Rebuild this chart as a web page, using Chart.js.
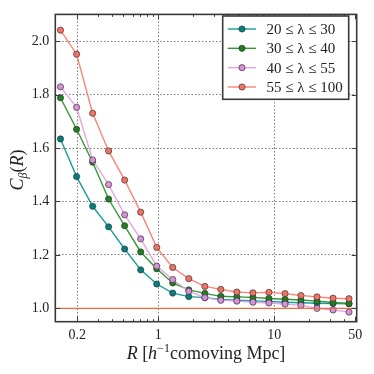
<!DOCTYPE html>
<html>
<head>
<meta charset="utf-8">
<script src="https://cdn.jsdelivr.net/npm/chart.js@4.4.1/dist/chart.umd.min.js"></script>
<style>
  html, body { margin: 0; padding: 0; background: #fff; }
  #wrap { width: 374px; height: 374px; position: relative; }
</style>
</head>
<body>
<div id="wrap"><canvas id="c" width="374" height="374"></canvas></div>
<script>
// ---- data ----
const radii = [0.143, 0.197, 0.271, 0.372, 0.512, 0.704, 0.968, 1.33, 1.83, 2.52, 3.46, 4.76, 6.55, 9.0, 12.4, 17.0, 23.4, 32.2, 44.2];
const series20to30  = [1.634, 1.493, 1.382, 1.305, 1.222, 1.144, 1.091, 1.057, 1.044, 1.040, 1.033, 1.030, 1.028, 1.026, 1.023, 1.021, 1.019, 1.018, 1.017];
const series30to40  = [1.788, 1.670, 1.547, 1.409, 1.309, 1.211, 1.148, 1.095, 1.069, 1.056, 1.045, 1.043, 1.041, 1.037, 1.034, 1.031, 1.027, 1.022, 1.018];
const series40to55  = [1.829, 1.752, 1.555, 1.463, 1.350, 1.260, 1.158, 1.108, 1.064, 1.040, 1.030, 1.027, 1.023, 1.020, 1.016, 1.011, 1.000, 0.994, 0.986];
const series55to100 = [2.041, 1.951, 1.730, 1.589, 1.480, 1.360, 1.228, 1.153, 1.111, 1.082, 1.071, 1.061, 1.058, 1.060, 1.055, 1.048, 1.043, 1.038, 1.036];
const seriesLabels = ["20 \u2264 \u03bb \u2264 30", "30 \u2264 \u03bb \u2264 40", "40 \u2264 \u03bb \u2264 55", "55 \u2264 \u03bb \u2264 100"];
const referenceLevel = 1.0;
const xRange = [0.129, 51.5];
const yRange = [0.95, 2.1];
const xTickValues = [0.2, 1, 10, 50];
const xTickLabels = ["0.2", "1", "10", "50"];
const yTickValues = [1.0, 1.2, 1.4, 1.6, 1.8, 2.0];
const xMinorTicks = [0.3, 0.4, 0.5, 0.6, 0.7, 0.8, 0.9, 2, 3, 4, 5, 6, 7, 8, 9, 20, 30, 40];

const lineColors   = ['#1a9c9c', '#339933', '#e3a6e3', '#fb8575'];
const markerColors = ['#008080', '#1e801e', '#da90da', '#f47262'];
const refColor = '#f26a3a';
const SERIF = '"Liberation Serif", "DejaVu Serif", serif';
const FRAME = '#3a3a3a';

const allSeries = [series20to30, series30to40, series40to55, series55to100];
function pts(arr) { return radii.map((r, i) => ({ x: r, y: arr[i] })); }

const datasets = allSeries.map((s, i) => ({
  label: seriesLabels[i],
  data: pts(s),
  borderColor: lineColors[i],
  backgroundColor: markerColors[i],
  pointBackgroundColor: markerColors[i],
  pointBorderColor: '#333333',
  pointBorderWidth: 0.7,
  pointRadius: 3.1,
  borderWidth: 1.4,
  tension: 0,
  order: 4 - i
}));
datasets.push({
  label: 'ref',
  data: [{ x: xRange[0], y: referenceLevel }, { x: xRange[1], y: referenceLevel }],
  borderColor: refColor,
  borderWidth: 1.4,
  pointRadius: 0,
  order: 0
});

const decorPlugin = {
  id: 'decor',
  afterDatasetsDraw(chart) {
    const ctx = chart.ctx, a = chart.chartArea;
    const xs = chart.scales.x, ys = chart.scales.y;
    ctx.save();
    // frame
    ctx.strokeStyle = FRAME; ctx.lineWidth = 1.6;
    ctx.strokeRect(a.left, a.top, a.right - a.left, a.bottom - a.top);
    // ticks
    ctx.lineWidth = 1;
    ctx.beginPath();
    xTickValues.forEach(v => {
      const px = Math.round(xs.getPixelForValue(v)) + 0.5;
      ctx.moveTo(px, a.bottom); ctx.lineTo(px, a.bottom - 5);
      ctx.moveTo(px, a.top); ctx.lineTo(px, a.top + 5);
    });
    xMinorTicks.forEach(v => {
      const px = Math.round(xs.getPixelForValue(v)) + 0.5;
      ctx.moveTo(px, a.bottom); ctx.lineTo(px, a.bottom - 2.5);
      ctx.moveTo(px, a.top); ctx.lineTo(px, a.top + 2.5);
    });
    yTickValues.forEach(v => {
      const py = Math.round(ys.getPixelForValue(v)) + 0.5;
      ctx.moveTo(a.left, py); ctx.lineTo(a.left + 5, py);
      ctx.moveTo(a.right, py); ctx.lineTo(a.right - 5, py);
    });
    ctx.stroke();

    // legend
    const lx = 222.7, ly = 16, lw = 126, lh = 83.3;
    ctx.fillStyle = '#ffffff';
    ctx.fillRect(lx, ly, lw, lh);
    ctx.strokeStyle = FRAME; ctx.lineWidth = 1.6;
    ctx.strokeRect(lx, ly, lw, lh);
    const rows = [29, 48.3, 67.7, 87];
    ctx.font = '15px ' + SERIF;
    ctx.textBaseline = 'middle';
    ctx.textAlign = 'left';
    rows.forEach((ry, i) => {
      ctx.strokeStyle = lineColors[i]; ctx.lineWidth = 1.4;
      ctx.beginPath(); ctx.moveTo(227.7, ry); ctx.lineTo(256, ry); ctx.stroke();
      ctx.beginPath(); ctx.arc(242, ry, 3.1, 0, Math.PI * 2);
      ctx.fillStyle = markerColors[i]; ctx.fill();
      ctx.strokeStyle = '#333333'; ctx.lineWidth = 0.7; ctx.stroke();
      ctx.fillStyle = '#222222';
      ctx.fillText(seriesLabels[i], 266.5, ry + 1);
    });

    // x axis title: R [h^-1 comoving Mpc]
    const parts = [
      { t: 'R', f: 'italic 18px ' + SERIF, dy: 0 },
      { t: ' [', f: '18px ' + SERIF, dy: 0 },
      { t: 'h', f: 'italic 18px ' + SERIF, dy: 0 },
      { t: '\u22121', f: '12px ' + SERIF, dy: -7 },
      { t: 'comoving Mpc]', f: '18px ' + SERIF, dy: 0 }
    ];
    let total = 0;
    parts.forEach(p => { ctx.font = p.f; p.w = ctx.measureText(p.t).width; total += p.w; });
    let cx = 206 - total / 2;
    ctx.fillStyle = '#222222';
    ctx.textBaseline = 'alphabetic';
    parts.forEach(p => { ctx.font = p.f; ctx.fillText(p.t, cx, 359 + p.dy); cx += p.w; });

    // y axis title: C_beta(R)
    const yparts = [
      { t: 'C', f: 'italic 18px ' + SERIF, dy: 0 },
      { t: '\u03b2', f: 'italic 12px ' + SERIF, dy: 4 },
      { t: '(', f: '18px ' + SERIF, dy: 0 },
      { t: 'R', f: 'italic 18px ' + SERIF, dy: 0 },
      { t: ')', f: '18px ' + SERIF, dy: 0 }
    ];
    total = 0;
    yparts.forEach(p => { ctx.font = p.f; p.w = ctx.measureText(p.t).width; total += p.w; });
    ctx.translate(23, 170);
    ctx.rotate(-Math.PI / 2);
    cx = -total / 2;
    yparts.forEach(p => { ctx.font = p.f; ctx.fillText(p.t, cx, p.dy); cx += p.w; });
    ctx.restore();
  }
};

new Chart(document.getElementById('c'), {
  type: 'line',
  data: { datasets },
  options: {
    responsive: false,
    animation: false,
    devicePixelRatio: 1,
    layout: { padding: { top: 11, right: 17.3, left: 0, bottom: 0 } },
    plugins: { legend: { display: false }, tooltip: { enabled: false } },
    scales: {
      x: {
        type: 'logarithmic',
        min: xRange[0], max: xRange[1],
        afterBuildTicks: s => { s.ticks = xTickValues.map(v => ({ value: v })); },
        afterFit: s => { s.height = 52.3; },
        ticks: {
          autoSkip: false, maxRotation: 0, padding: 5,
          font: { family: SERIF, size: 14 }, color: '#222222',
          callback: (v) => { const i = xTickValues.indexOf(v); return i >= 0 ? xTickLabels[i] : ''; }
        },
        grid: {
          drawTicks: false, lineWidth: 1,
          color: c => (c.tick && c.tick.value === 50) ? 'rgba(0,0,0,0)' : '#7a7a7a'
        },
        border: { display: false, dash: [1.5, 2] }
      },
      y: {
        type: 'linear',
        min: yRange[0], max: yRange[1],
        afterBuildTicks: s => { s.ticks = yTickValues.map(v => ({ value: v })); },
        afterFit: s => { s.width = 55.3; },
        ticks: {
          padding: 6,
          font: { family: SERIF, size: 14 }, color: '#222222',
          callback: v => Number(v).toFixed(1)
        },
        grid: { drawTicks: false, lineWidth: 1, color: '#7a7a7a' },
        border: { display: false, dash: [1.5, 2] }
      }
    }
  },
  plugins: [decorPlugin]
});
</script>
</body>
</html>
